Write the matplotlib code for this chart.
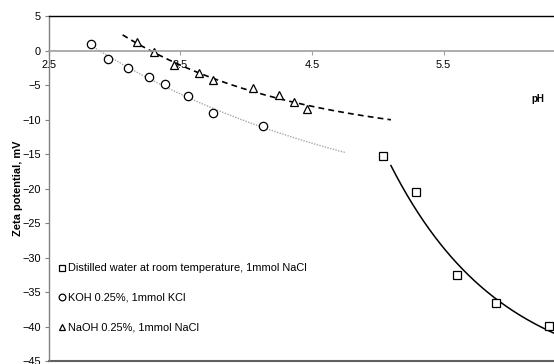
import numpy as np
import matplotlib
matplotlib.use("Agg")
import matplotlib.pyplot as plt

plt.rcParams['font.family'] = ['Liberation Sans', 'DejaVu Sans']

# Data
sq_ph = [5.04, 5.29, 5.60, 5.90, 6.30]
sq_zeta = [-15.3, -20.5, -32.5, -36.6, -39.9]
ci_ph = [2.82, 2.95, 3.10, 3.26, 3.38, 3.56, 3.75, 4.13]
ci_zeta = [1.0, -1.3, -2.5, -3.9, -4.9, -6.6, -9.0, -11.0]
tr_ph = [3.17, 3.30, 3.45, 3.64, 3.75, 4.05, 4.25, 4.36, 4.46]
tr_zeta = [1.2, -0.2, -2.1, -3.3, -4.3, -5.5, -6.4, -7.5, -8.5]

labels = ["Distilled water at room temperature, 1mmol NaCl",
          "KOH 0.25%, 1mmol KCl",
          "NaOH 0.25%, 1mmol NaCl"]
xticks = [2.5, 3.5, 4.5, 5.5]
yticks = list(range(-45, 6, 5))

# trendline x-ranges
ci_range = (2.82, 4.76)
tr_range = (3.06, 5.10)
sq_range = (5.10, 6.34)

fig = plt.figure(figsize=(5.54, 3.64), dpi=100)
ax = fig.add_axes([0.0884, 0.0082, 0.9116, 0.9478])
ax.set_xlim(2.5, 6.34)
ax.set_ylim(-45, 5)

def expfit(x, y, x0, x1):
    """Least-squares fit of y = a + b*exp(-k*x)."""
    x = np.asarray(x); y = np.asarray(y)
    best = None
    for k in np.linspace(0.02, 15, 3000):
        A = np.column_stack([np.ones_like(x), np.exp(-k * x)])
        c, *_ = np.linalg.lstsq(A, y, rcond=None)
        sse = np.sum((A @ c - y) ** 2)
        if best is None or sse < best[0]:
            best = (sse, k, c)
    _, k, c = best
    xs = np.linspace(x0, x1, 300)
    return xs, c[0] + c[1] * np.exp(-k * xs)

xs, ys = expfit(ci_ph, ci_zeta, *ci_range)
ax.plot(xs, ys, color='#a8a8a8', lw=1.0, ls=(0, (1, 1)))
xs, ys = expfit(tr_ph, tr_zeta, *tr_range)
ax.plot(xs, ys, color='black', lw=1.2, ls=(0, (3.5, 2.5)))
xs, ys = expfit(sq_ph, sq_zeta, *sq_range)
ax.plot(xs, ys, color='black', lw=1.1, clip_on=False)

ms = 6
ax.plot(sq_ph, sq_zeta, 's', mfc='white', mec='black', ms=ms, mew=0.9, ls='none', clip_on=False, label=labels[0])
ax.plot(ci_ph, ci_zeta, 'o', mfc='white', mec='black', ms=ms, mew=0.9, ls='none', label=labels[1])
ax.plot(tr_ph, tr_zeta, '^', mfc='white', mec='black', ms=ms, mew=0.9, ls='none', label=labels[2])

leg = ax.legend(loc='lower left', bbox_to_anchor=(0.0, 0.054), frameon=False,
                fontsize=7.9, handlelength=0.6, handletextpad=0.2, labelspacing=1.78,
                markerscale=0.8)

ax.spines['bottom'].set_position(('data', 0))
ax.spines['bottom'].set_color('#a0a0a0')
ax.spines['bottom'].set_linewidth(1.2)
ax.spines['left'].set_color('#808080')
ax.spines['left'].set_linewidth(1.0)
ax.spines['top'].set_color('black')
ax.spines['top'].set_linewidth(1.0)
ax.spines['right'].set_visible(False)
ax.axhline(-45, color='#606060', lw=1.5, clip_on=False)

ax.set_xticks(xticks)
ax.set_xticklabels([f"{t:.1f}" for t in xticks])
ax.set_yticks(yticks)
ax.tick_params(axis='x', direction='out', length=3, color='#a0a0a0', labelsize=7.9, pad=4)
ax.tick_params(axis='y', direction='out', length=3, color='#808080', labelsize=7.9, pad=3)

ax.set_ylabel("Zeta potential, mV", fontsize=7.9, fontweight='bold', labelpad=-1)
ax.text(6.22, -7.0, "pH", fontsize=7, fontweight='bold', ha='center', va='center',
        family=['Liberation Sans Narrow', 'Liberation Sans'])

fig.savefig("out.png", dpi=100)
